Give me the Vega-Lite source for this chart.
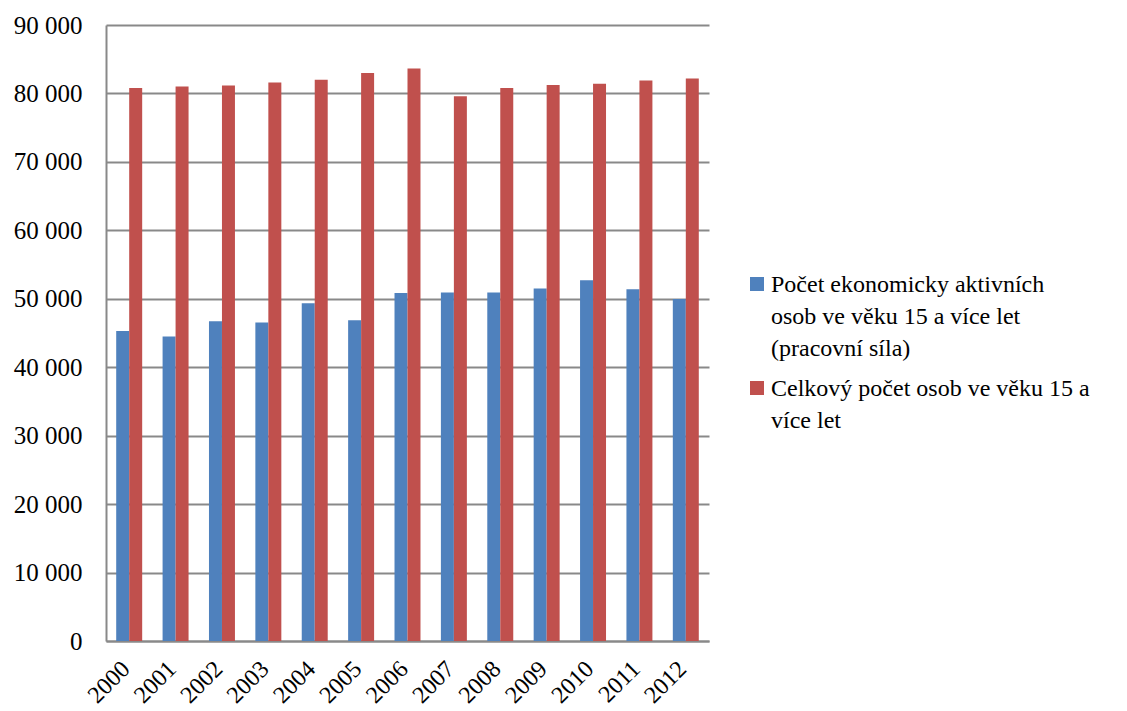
{
  "$schema": "https://vega.github.io/schema/vega-lite/v6.json",
  "width": 603,
  "height": 616,
  "autosize": {"type": "none"},
  "padding": {"left": 106, "top": 25, "right": 418, "bottom": 70},
  "background": "white",
  "data": {
    "values": [
      {"rok": "2000", "rada": "Počet ekonomicky aktivních osob ve věku 15 a více let (pracovní síla)", "pocet": 45300},
      {"rok": "2001", "rada": "Počet ekonomicky aktivních osob ve věku 15 a více let (pracovní síla)", "pocet": 44500},
      {"rok": "2002", "rada": "Počet ekonomicky aktivních osob ve věku 15 a více let (pracovní síla)", "pocet": 46700},
      {"rok": "2003", "rada": "Počet ekonomicky aktivních osob ve věku 15 a více let (pracovní síla)", "pocet": 46550},
      {"rok": "2004", "rada": "Počet ekonomicky aktivních osob ve věku 15 a více let (pracovní síla)", "pocet": 49350},
      {"rok": "2005", "rada": "Počet ekonomicky aktivních osob ve věku 15 a více let (pracovní síla)", "pocet": 46850},
      {"rok": "2006", "rada": "Počet ekonomicky aktivních osob ve věku 15 a více let (pracovní síla)", "pocet": 50850},
      {"rok": "2007", "rada": "Počet ekonomicky aktivních osob ve věku 15 a více let (pracovní síla)", "pocet": 50900},
      {"rok": "2008", "rada": "Počet ekonomicky aktivních osob ve věku 15 a více let (pracovní síla)", "pocet": 50900},
      {"rok": "2009", "rada": "Počet ekonomicky aktivních osob ve věku 15 a více let (pracovní síla)", "pocet": 51500},
      {"rok": "2010", "rada": "Počet ekonomicky aktivních osob ve věku 15 a více let (pracovní síla)", "pocet": 52700},
      {"rok": "2011", "rada": "Počet ekonomicky aktivních osob ve věku 15 a více let (pracovní síla)", "pocet": 51400},
      {"rok": "2012", "rada": "Počet ekonomicky aktivních osob ve věku 15 a více let (pracovní síla)", "pocet": 49950},
      {"rok": "2000", "rada": "Celkový počet osob ve věku 15 a více let", "pocet": 80800},
      {"rok": "2001", "rada": "Celkový počet osob ve věku 15 a více let", "pocet": 81000},
      {"rok": "2002", "rada": "Celkový počet osob ve věku 15 a více let", "pocet": 81150},
      {"rok": "2003", "rada": "Celkový počet osob ve věku 15 a více let", "pocet": 81600},
      {"rok": "2004", "rada": "Celkový počet osob ve věku 15 a více let", "pocet": 82000},
      {"rok": "2005", "rada": "Celkový počet osob ve věku 15 a více let", "pocet": 83000},
      {"rok": "2006", "rada": "Celkový počet osob ve věku 15 a více let", "pocet": 83650},
      {"rok": "2007", "rada": "Celkový počet osob ve věku 15 a více let", "pocet": 79600},
      {"rok": "2008", "rada": "Celkový počet osob ve věku 15 a více let", "pocet": 80800},
      {"rok": "2009", "rada": "Celkový počet osob ve věku 15 a více let", "pocet": 81250},
      {"rok": "2010", "rada": "Celkový počet osob ve věku 15 a více let", "pocet": 81400},
      {"rok": "2011", "rada": "Celkový počet osob ve věku 15 a více let", "pocet": 81900},
      {"rok": "2012", "rada": "Celkový počet osob ve věku 15 a více let", "pocet": 82200}
    ]
  },
  "mark": {"type": "bar"},
  "encoding": {
    "x": {
      "field": "rok",
      "type": "nominal",
      "scale": {"paddingInner": 0.44, "paddingOuter": 0.22},
      "axis": {
        "title": null,
        "labelAngle": -45,
        "labelAlign": "right",
        "labelBaseline": "middle",
        "labelFontSize": 24,
        "labelColor": "black",
        "ticks": false,
        "labelPadding": 24,
        "labelOffset": -3,
        "domainColor": "#898989",
        "domainWidth": 2
      }
    },
    "xOffset": {
      "field": "rada",
      "type": "nominal",
      "scale": {"domain": ["Počet ekonomicky aktivních osob ve věku 15 a více let (pracovní síla)", "Celkový počet osob ve věku 15 a více let"]}
    },
    "y": {
      "field": "pocet",
      "type": "quantitative",
      "scale": {"domain": [0, 90000], "nice": false},
      "axis": {
        "title": null,
        "values": [0, 10000, 20000, 30000, 40000, 50000, 60000, 70000, 80000, 90000],
        "labelExpr": "replace(format(datum.value, ','), ',', ' ')",
        "grid": true,
        "gridColor": "#898989",
        "gridWidth": 2,
        "ticks": false,
        "domainColor": "#898989",
        "domainWidth": 2,
        "labelPadding": 24,
        "labelFontSize": 25,
        "labelColor": "black"
      }
    },
    "color": {
      "field": "rada",
      "type": "nominal",
      "scale": {
        "domain": ["Počet ekonomicky aktivních osob ve věku 15 a více let (pracovní síla)", "Celkový počet osob ve věku 15 a více let"],
        "range": ["#4F81BD", "#C0504D"]
      },
      "legend": {
        "title": null,
        "orient": "none",
        "legendX": 639,
        "legendY": 236,
        "symbolType": "M-1,0.57H1V2.57H-1Z",
        "symbolSize": 196,
        "symbolStrokeWidth": 0,
        "labelFontSize": 24,
        "labelColor": "black",
        "labelLimit": 0,
        "labelOffset": 2,
        "labelBaseline": "top",
        "rowPadding": 4,
        "labelExpr": "indexof(datum.label, 'Počet') == 0 ? ['Počet ekonomicky aktivních', 'osob ve věku 15 a více let', '(pracovní síla)'] : ['Celkový počet osob ve věku 15 a', 'více let']"
      }
    }
  },
  "config": {
    "view": {"stroke": null},
    "font": "Times New Roman, Liberation Serif, DejaVu Serif, serif",
    "axis": {"labelFont": "Times New Roman, Liberation Serif, DejaVu Serif, serif"},
    "legend": {"labelFont": "Times New Roman, Liberation Serif, DejaVu Serif, serif"},
    "style": {"guide-label": {"lineHeight": 32}}
  }
}
